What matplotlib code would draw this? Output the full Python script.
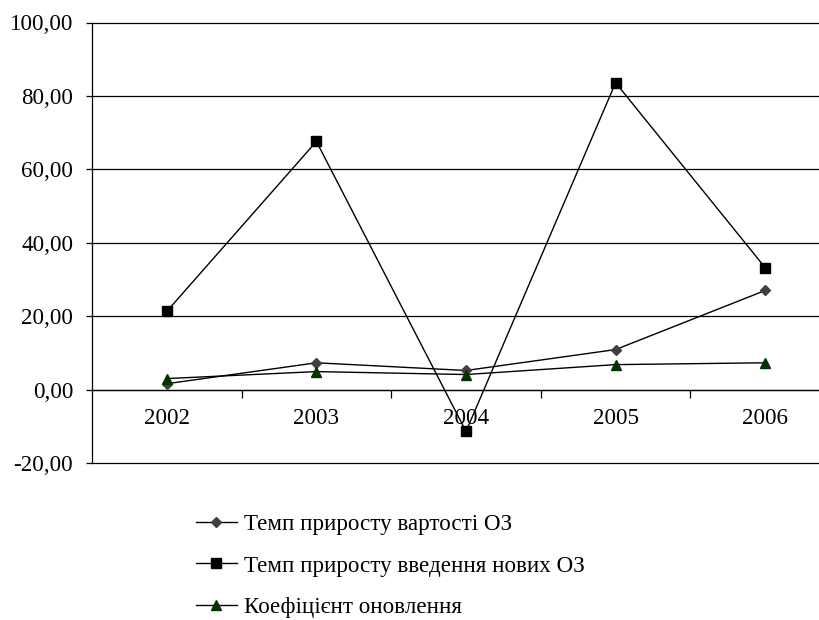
import matplotlib
matplotlib.use('Agg')
import matplotlib.pyplot as plt
from matplotlib.ticker import FuncFormatter, FixedLocator

years = ['2002', '2003', '2004', '2005', '2006']
vartist = [1.6, 7.3, 5.2, 10.9, 27.0]
vvedennia = [21.3, 67.6, -11.4, 83.6, 33.2]
onovlennia = [3.0, 4.9, 4.1, 6.8, 7.3]
labels = ['Темп приросту вартості ОЗ',
          'Темп приросту введення нових ОЗ',
          'Коефіцієнт оновлення']

plt.rcParams['font.family'] = ['Liberation Serif', 'DejaVu Serif']
plt.rcParams['font.size'] = 16.6


def main():
    fig = plt.figure(figsize=(8.19, 6.20), dpi=100)
    ax = fig.add_axes([92 / 819, 157 / 620, 748 / 819, 440.5 / 620])

    x = range(len(years))
    ax.plot(x, vartist, color='black', lw=1.0, marker='D', ms=5,
            mfc='#404040', mec='#404040', label=labels[0], zorder=3)
    ax.plot(x, vvedennia, color='black', lw=1.0, marker='s', ms=6.5,
            mfc='black', mec='black', label=labels[1], zorder=3)
    ax.plot(x, onovlennia, color='black', lw=1.0, marker='^', ms=7,
            mfc='#003300', mec='#003300', label=labels[2], zorder=3)

    ax.set_xlim(-0.5, 4.5)
    ax.set_ylim(-20, 100)
    ax.set_yticks(range(-20, 101, 20))
    ax.yaxis.set_major_formatter(FuncFormatter(lambda v, p: f'{v:.2f}'.replace('.', ',')))
    ax.grid(axis='y', color='black', lw=0.9)
    for gl in ax.get_ygridlines():
        gl.set_clip_on(False)
    ax.set_axisbelow(True)

    ax.set_xticks(list(x))
    ax.set_xticklabels(years)
    ax.xaxis.set_minor_locator(FixedLocator([0.5, 1.5, 2.5, 3.5, 4.5]))
    ax.tick_params(axis='x', which='major', length=0, pad=13)
    ax.tick_params(axis='x', which='minor', length=6, width=0.9, direction='out')
    ax.tick_params(axis='y', length=4.5, width=0.9, pad=9)

    ax.spines['bottom'].set_position(('data', 0))
    ax.spines['top'].set_visible(False)
    ax.spines['right'].set_visible(False)
    ax.spines['bottom'].set_linewidth(0.9)
    ax.spines['left'].set_linewidth(0.9)

    fig.legend(loc='upper left', bbox_to_anchor=(184 / 819, 118 / 620),
               frameon=False, borderpad=0, handlelength=1.8,
               handletextpad=0.3, labelspacing=0.9)

    fig.savefig('out.png', dpi=100)


if __name__ == '__main__':
    main()
